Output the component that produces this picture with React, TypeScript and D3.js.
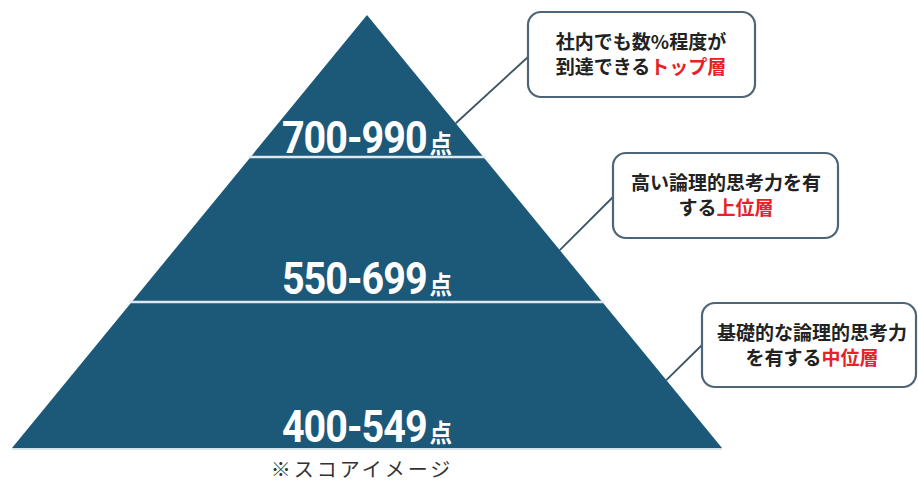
import React from "react";
import { scaleLinear, line } from "d3";

// tiers from top to bottom
const tierLabels = ["700-990", "550-699", "400-549"];
const tierUnit = "点";
// boundary levels (0 = apex, 1 = base)
const tierLevels = [0, 0.328, 0.663, 1];
// label baseline level inside each tier
const labelLevels = [0.318, 0.645, 0.986];

// callouts: [plain text line 1, plain part of line 2, red part of line 2]
const calloutLine1 = ["社内でも数%程度が", "高い論理的思考力を有", "基礎的な論理的思考力"];
const calloutLine2 = ["到達できる", "する", "を有する"];
const calloutRed = ["トップ層", "上位層", "中位層"];
// where the connector meets the pyramid's right edge
const connectorLevels = [0.25, 0.543, 0.843];

const footnote = "※スコアイメージ";

const W = 918;
const H = 482;
const apexX = 367;

const yScale = scaleLinear().domain([0, 1]).range([15, 448]);
const halfWidth = scaleLinear().domain([0, 1]).range([0, 355]);

const boxes = [
  { x: 528, y: 12, w: 227, h: 85, cx: 641, ly: 57 },
  { x: 613, y: 153, w: 225, h: 85, cx: 726, ly: 197 },
  { x: 702, y: 303, w: 214, h: 84, cx: 812, ly: 345 },
];

const fill = "#1c5878";
const red = "#e62129";
const jp = "'Noto Sans CJK JP', 'Noto Sans', sans-serif";

export default function App() {
  const edge = line<[number, number]>();
  const outline: [number, number][] = [
    [apexX, yScale(0)],
    [apexX + halfWidth(1), yScale(1)],
    [apexX - halfWidth(1), yScale(1)],
  ];

  return (
    <svg
      width={W}
      height={H}
      style={{ position: "absolute", left: 0, top: 0, background: "#fff" }}
    >
      <path d={edge(outline) + "Z"} fill={fill} />

      {/* tier dividers */}
      {tierLevels.slice(1, -1).map((lv, i) => (
        <line
          key={i}
          x1={apexX - halfWidth(lv) - 2}
          x2={apexX + halfWidth(lv) + 2}
          y1={yScale(lv)}
          y2={yScale(lv)}
          stroke="#dce9f0"
          strokeWidth={2.5}
        />
      ))}
      <line
        x1={apexX - halfWidth(1)}
        x2={apexX + halfWidth(1)}
        y1={yScale(1) + 1}
        y2={yScale(1) + 1}
        stroke="#c9dbe6"
        strokeWidth={1.5}
      />

      {/* tier labels */}
      {tierLabels.map((t, i) => (
        <g key={t} transform={`translate(${apexX},${yScale(labelLevels[i])}) scale(0.94,1.04)`}>
          <text
            x={0}
            y={0}
            textAnchor="middle"
            fill="#fff"
            fontFamily="Roboto, 'DejaVu Sans', sans-serif"
            fontWeight={700}
            fontSize={42}
            letterSpacing={-1}
          >
            {t}
            <tspan fontFamily={jp} fontSize={24} dx={3} letterSpacing={0}>
              {tierUnit}
            </tspan>
          </text>
        </g>
      ))}

      {/* callouts */}
      {boxes.map((b, i) => {
        const lv = connectorLevels[i];
        return (
          <g key={i}>
            <line
              x1={b.x}
              y1={b.ly}
              x2={apexX + halfWidth(lv)}
              y2={yScale(lv)}
              stroke="#3b5566"
              strokeWidth={1.8}
            />
            <rect
              x={b.x}
              y={b.y}
              width={b.w}
              height={b.h}
              rx={13}
              fill="#fff"
              stroke="#4d6576"
              strokeWidth={2.2}
            />
            <text
              x={b.cx}
              y={b.y + 37}
              textAnchor="middle"
              fontFamily={jp}
              fontWeight={700}
              fontSize={19}
              fill="#222"
            >
              {calloutLine1[i]}
            </text>
            <text
              x={b.cx}
              y={b.y + 62}
              textAnchor="middle"
              fontFamily={jp}
              fontWeight={700}
              fontSize={19}
              fill="#222"
            >
              {calloutLine2[i]}
              <tspan fill={red}>{calloutRed[i]}</tspan>
            </text>
          </g>
        );
      })}

      <text
        x={362}
        y={477}
        textAnchor="middle"
        fontFamily={jp}
        fontSize={20}
        letterSpacing={3}
        fill="#333"
      >
        {footnote}
      </text>
    </svg>
  );
}
